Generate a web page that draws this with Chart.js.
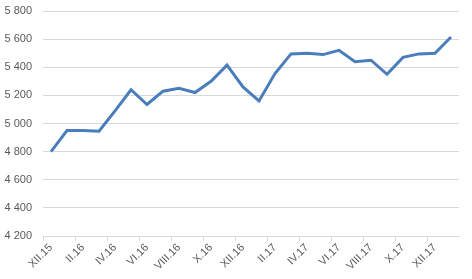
<!DOCTYPE html>
<html>
<head>
<meta charset="utf-8">
<script src="https://cdn.jsdelivr.net/npm/chart.js@4/dist/chart.umd.min.js"></script>
<style>
html,body{margin:0;padding:0;background:#fff;}
#wrap{width:472px;height:279px;position:relative;}
</style>
</head>
<body>
<div id="wrap"><canvas id="c"></canvas></div>
<script>
const categories = ["XII.15","I.16","II.16","III.16","IV.16","V.16","VI.16","VII.16","VIII.16","IX.16","X.16","XI.16","XII.16","I.17","II.17","III.17","IV.17","V.17","VI.17","VII.17","VIII.17","IX.17","X.17","XI.17","XII.17","I.18"];
const values = [4800,4950,4950,4945,5090,5240,5135,5230,5250,5220,5300,5415,5260,5160,5355,5495,5500,5490,5520,5440,5450,5350,5470,5495,5500,5615];
const yTicks = [4200,4400,4600,4800,5000,5200,5400,5600,5800];

const fmt = v => String(v).replace(/\B(?=(\d{3})+(?!\d))/g, ' ');
const FONT = {family: "'Liberation Sans', Arial, sans-serif", size: 11};

new Chart(document.getElementById('c'), {
  type: 'line',
  data: {
    labels: categories,
    datasets: [{
      data: values,
      borderColor: '#4a7ebb',
      borderWidth: 3,
      pointRadius: 0,
      tension: 0,
      fill: false
    }]
  },
  options: {
    responsive: true,
    maintainAspectRatio: false,
    animation: false,
    layout: {padding: {top: 11, right: 13, left: 0, bottom: 0}},
    plugins: {legend: {display: false}, tooltip: {enabled: false}},
    scales: {
      x: {
        type: 'category',
        offset: true,
        grid: {
          offset: true,
          drawOnChartArea: false,
          drawTicks: true,
          tickLength: 5,
          color: ctx => (ctx.index % 2 === 0 ? '#d9d9d9' : 'rgba(0,0,0,0)')
        },
        border: {display: true, color: '#d9d9d9', width: 1},
        ticks: {
          autoSkip: false,
          maxRotation: 45,
          minRotation: 45,
          padding: 0,
          color: '#595959',
          font: FONT,
          callback: function(v, i) { return i % 2 === 0 ? this.getLabelForValue(v) : ''; }
        },
        afterFit: s => { s.height = 43; s.paddingLeft = 0; s.paddingRight = 0; }
      },
      y: {
        min: 4200,
        max: 5800,
        afterBuildTicks: s => { s.ticks = yTicks.map(v => ({value: v})); },
        grid: {color: '#d9d9d9', drawTicks: false, lineWidth: 1},
        border: {display: false},
        ticks: {
          padding: 11,
          color: '#595959',
          font: FONT,
          callback: v => fmt(v)
        },
        afterFit: s => { s.width = 43; s.paddingTop = 0; s.paddingBottom = 0; }
      }
    }
  }
});
</script>
</body>
</html>
